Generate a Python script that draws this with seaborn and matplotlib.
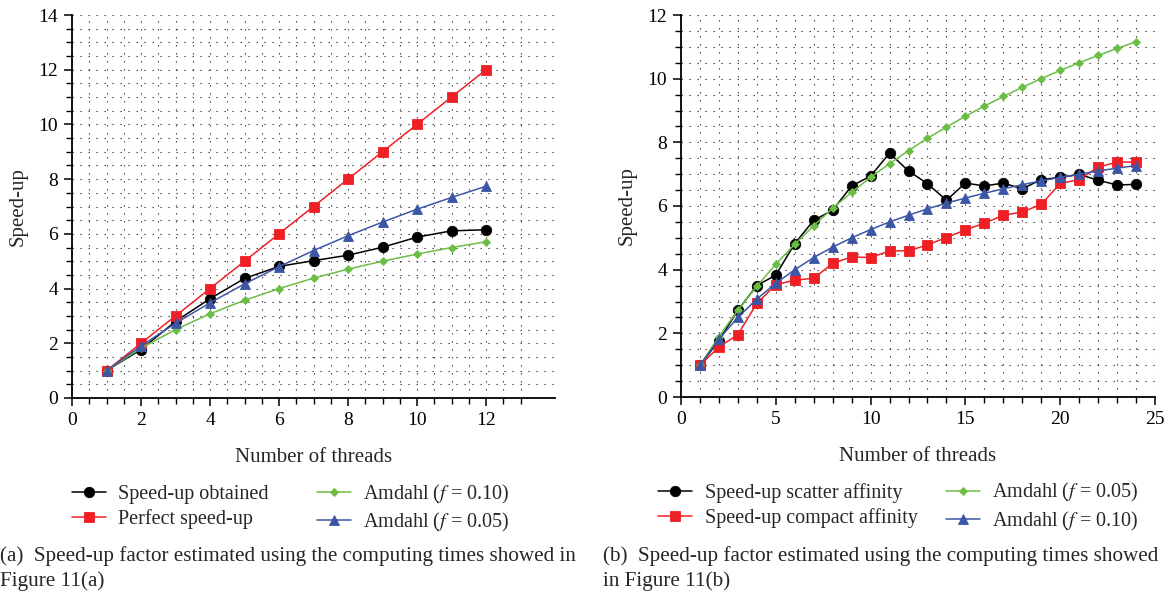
import numpy as np
import pandas as pd
import matplotlib
matplotlib.use("Agg")
import matplotlib.pyplot as plt
import seaborn as sns
from matplotlib.ticker import MultipleLocator, FixedLocator

# ---------------- data ----------------
threads_a = [1, 2, 3, 4, 5, 6, 7, 8, 9, 10, 11, 12]
speedup_obtained = [1.0, 1.77, 2.8, 3.63, 4.37, 4.81, 5.02, 5.22, 5.51, 5.88, 6.11, 6.15]
perfect_speedup = [1, 2, 3, 4, 5, 6, 7, 8, 9, 10, 11, 12]
amdahl_a_010 = [1.0, 1.82, 2.5, 3.08, 3.57, 4.0, 4.38, 4.71, 5.0, 5.26, 5.5, 5.71]
amdahl_a_005 = [1.0, 1.9, 2.73, 3.48, 4.17, 4.8, 5.39, 5.93, 6.43, 6.9, 7.33, 7.74]

threads_b = list(range(1, 25))
scatter_aff = [1.0, 1.77, 2.73, 3.5, 3.83, 4.82, 5.55, 5.87, 6.63, 6.94, 7.66, 7.1,
               6.7, 6.18, 6.72, 6.63, 6.72, 6.54, 6.83, 6.9, 6.99, 6.81, 6.66, 6.68]
compact_aff = [1.0, 1.57, 1.96, 2.94, 3.53, 3.67, 3.73, 4.2, 4.4, 4.38, 4.59, 4.59,
               4.78, 5.01, 5.25, 5.46, 5.71, 5.81, 6.05, 6.71, 6.83, 7.22, 7.38, 7.38]
amdahl_b_005 = [1.0, 1.9, 2.73, 3.48, 4.17, 4.8, 5.38, 5.93, 6.43, 6.9, 7.33, 7.74,
                8.13, 8.48, 8.82, 9.14, 9.44, 9.73, 10.0, 10.26, 10.5, 10.73, 10.95, 11.16]
amdahl_b_010 = [1.0, 1.82, 2.5, 3.08, 3.57, 4.0, 4.38, 4.71, 5.0, 5.26, 5.5, 5.71,
                5.91, 6.09, 6.25, 6.4, 6.54, 6.67, 6.79, 6.9, 7.0, 7.1, 7.19, 7.27]

labels_a = ["Speed-up obtained", "Perfect speed-up",
            r"Amdahl ($f$ = 0.10)", r"Amdahl ($f$ = 0.05)"]
labels_b = ["Speed-up scatter affinity", "Speed-up compact affinity",
            r"Amdahl ($f$ = 0.05)", r"Amdahl ($f$ = 0.10)"]
caption_a = "(a)  Speed-up factor estimated using the computing times showed in\nFigure 11(a)"
caption_b = "(b)  Speed-up factor estimated using the computing times showed\nin Figure 11(b)"

# ---------------- styling ----------------
sns.set_theme(style="white")
plt.rcParams["font.family"] = ["Liberation Serif", "DejaVu Serif"]
plt.rcParams["mathtext.fontset"] = "stix"
plt.rcParams["font.size"] = 13.5

BLACK = "#000000"
RED = "#ee1f25"
GREEN = "#6cbd45"
BLUE = "#3c56a6"

styles = [
    dict(color=BLACK, marker="o", markersize=7.5),
    dict(color=RED, marker="s", markersize=7.5),
    dict(color=GREEN, marker="D", markersize=4.5),
    dict(color=BLUE, marker="^", markersize=7),
]

fig = plt.figure(figsize=(11.69, 5.97), dpi=100)
ax1 = fig.add_axes([72 / 1169, 1 - 398 / 597, (555 - 72) / 1169, (398 - 15) / 597])
ax2 = fig.add_axes([681 / 1169, 1 - 397 / 597, (1155 - 681) / 1169, (397 - 15) / 597])


def draw(ax, x, series, labels):
    for y, lab, st in zip(series, labels, styles):
        df = pd.DataFrame({"x": x, "y": y})
        sns.lineplot(data=df, x="x", y="y", ax=ax, label=lab, color=st["color"],
                     marker=st["marker"], markersize=st["markersize"],
                     markeredgecolor=st["color"], markeredgewidth=0.6,
                     linewidth=1.1, legend=False)


draw(ax1, threads_a, [speedup_obtained, perfect_speedup, amdahl_a_010, amdahl_a_005], labels_a)
draw(ax2, threads_b, [scatter_aff, compact_aff, amdahl_b_005, amdahl_b_010], labels_b)

# axes limits / ticks
ax1.set_xlim(0, 14)
ax1.set_ylim(0, 14)
ax1.xaxis.set_major_locator(FixedLocator([0, 2, 4, 6, 8, 10, 12]))
ax1.xaxis.set_minor_locator(FixedLocator(np.arange(0, 13.01, 0.5)))
ax1.yaxis.set_major_locator(MultipleLocator(2))
ax1.yaxis.set_minor_locator(MultipleLocator(0.5))

ax2.set_xlim(0, 25)
ax2.set_ylim(0, 12)
ax2.xaxis.set_major_locator(MultipleLocator(5))
ax2.xaxis.set_minor_locator(MultipleLocator(1))
ax2.yaxis.set_major_locator(MultipleLocator(2))
ax2.yaxis.set_minor_locator(MultipleLocator(0.5))

for ax in (ax1, ax2):
    for s in ("top", "right"):
        ax.spines[s].set_visible(False)
    for s in ("left", "bottom"):
        ax.spines[s].set_color("black")
        ax.spines[s].set_linewidth(1.3)
    ax.tick_params(which="major", direction="out", length=6, width=1.1,
                   colors="black", labelsize=14, left=True, bottom=True, pad=4)
    ax.tick_params(which="minor", direction="out", length=4.5, width=1.0,
                   colors="black", left=True, bottom=True)
    ax.grid(which="both", color="#333333", linestyle=(0, (1.2, 6)), linewidth=0.8)
    ax.set_axisbelow(True)
    ax.set_xlabel("Number of threads", fontsize=15, labelpad=14)
    ax.set_ylabel("Speed-up", fontsize=15, labelpad=8)
    ax.set_facecolor("white")

# legends below each chart
h1, l1 = ax1.get_legend_handles_labels()
ax1.legend(h1, l1, ncol=2, loc="upper left", bbox_to_anchor=(-0.017, -0.2),
           frameon=False, fontsize=14.5, handlelength=1.7, handletextpad=0.6,
           columnspacing=2.4, labelspacing=0.25, borderaxespad=0)
h2, l2 = ax2.get_legend_handles_labels()
ax2.legend(h2, l2, ncol=2, loc="upper left", bbox_to_anchor=(-0.065, -0.2),
           frameon=False, fontsize=14.5, handlelength=1.7, handletextpad=0.6,
           columnspacing=1.4, labelspacing=0.25, borderaxespad=0)

fig.text(0.0, 1 - 546 / 597, caption_a, ha="left", va="top", fontsize=15.2,
         linespacing=1.35)
fig.text(603 / 1169, 1 - 546 / 597, caption_b, ha="left", va="top", fontsize=15.2,
         linespacing=1.35)

fig.savefig("out.png", dpi=100, facecolor="white")
